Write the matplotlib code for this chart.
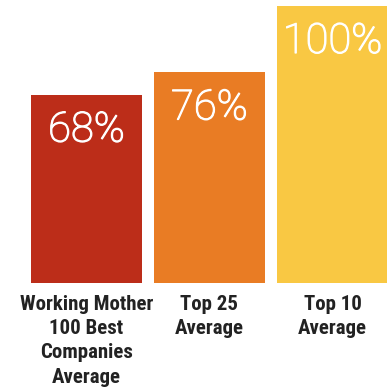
import matplotlib
matplotlib.use("Agg")
import matplotlib.pyplot as plt
import matplotlib.patheffects as pe
from matplotlib.transforms import blended_transform_factory

categories = ["Working Mother\n100 Best\nCompanies\nAverage", "Top 25\nAverage", "Top 10\nAverage"]
values = [68, 76, 100]
colors = ["#bc2d19", "#e97c24", "#f9c843"]

W, H = 387, 392
base_px = 283          # baseline, pixels from top
px_per_unit = 2.77     # vertical pixels per percent point
slot = 123             # horizontal pixels per bar slot

fig = plt.figure(figsize=(W / 100, H / 100), dpi=100)
ax = fig.add_axes([0, (H - base_px) / H, 1, base_px / H])

x = list(range(len(values)))
ax.bar(x, values, width=111 / slot, color=colors)

left = -0.5 * 111 / slot - 31 / slot
ax.set_xlim(left, left + W / slot)
ax.set_ylim(0, base_px / px_per_unit)
ax.axis("off")

label_font = ["Roboto Condensed", "Roboto", "DejaVu Sans"]
value_font = ["Roboto", "DejaVu Sans"]

# light face with a thin outline, a bit heavier than plain light
for xi, v in zip(x, values):
    ax.text(xi, v - 15 / px_per_unit, f"{v}%", ha="center", va="top",
            color="white", fontsize=30, fontweight="light", family=value_font,
            path_effects=[pe.withStroke(linewidth=0.9, foreground="white")])

trans = blended_transform_factory(ax.transData, fig.transFigure)
for xi, cat in zip(x, categories):
    ax.text(xi, 1 - 295 / H, cat, transform=trans, ha="center", va="top",
            color="#222222", fontsize=15, fontweight="bold", family=label_font,
            linespacing=1.35)

fig.savefig("out.png", dpi=100)
